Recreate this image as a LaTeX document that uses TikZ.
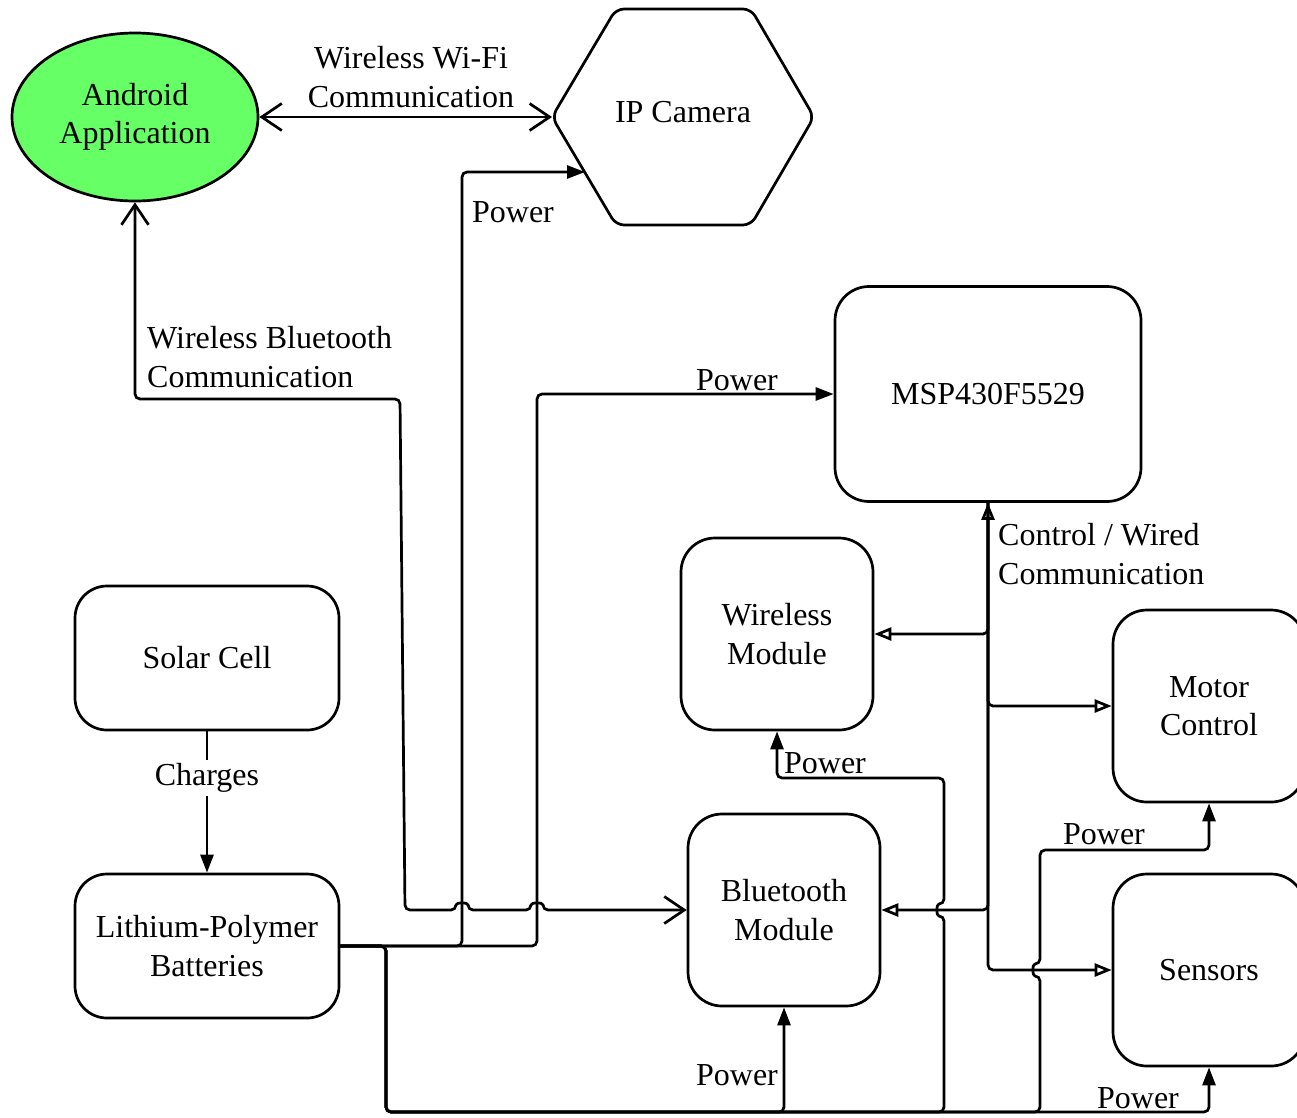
\documentclass[tikz,border=0pt]{standalone}
\usepackage{fontspec}
\setmainfont{Liberation Serif}
\usetikzlibrary{arrows.meta,shapes.geometric}
\definecolor{appgreen}{HTML}{66FF66}

\begin{document}
\begin{tikzpicture}[x=1pt,y=-1pt,
  every node/.style={font=\fontsize{32}{38.5}\selectfont, inner sep=0pt},
  box/.style={draw, line width=2.7pt, rounded corners=34pt, align=center, minimum width=192pt, minimum height=192pt},
  wire/.style={line width=2.7pt, rounded corners=5pt},
  pwr/.style={wire, -{Triangle[length=18pt,width=13pt]}},
  ctl/.style={wire, -{Triangle[open,length=17pt,width=13pt]}},
  bothctl/.style={wire, {Triangle[open,length=17pt,width=13pt]}-{Triangle[open,length=17pt,width=13pt]}},
  com/.style={wire, {Straight Barb[length=20pt,width=27pt]}-{Straight Barb[length=20pt,width=27pt]}},
  lbl/.style={align=left, anchor=west}
]
\useasboundingbox (0,0) rectangle (1297,1117);
\clip (0,0) rectangle (1297,1117);

% ---- blocks ----
\node[ellipse, draw, fill=appgreen, line width=2.7pt, minimum width=246pt, minimum height=168pt, align=center] (app) at (135,117) {Android\\Application};

% camera hexagon
\coordinate (camW) at (552,117);
\coordinate (camP) at (585,172);
\draw[line width=2.7pt, rounded corners=8pt] (683,9) -- (751,9) -- (814,117) -- (751,225) -- (616,225) -- (552,117) -- (616,9) -- cycle;
\node (cam) at (683,112) {IP Camera};

\node[box, minimum width=306pt, minimum height=215pt] (msp) at (988,394) {\raisebox{0pt}{MSP430F5529}};
\node[box] (wm)  at (777,634)  {Wireless\\Module};
\node[box] (mc)  at (1209,706) {Motor\\Control};
\node[box] (bt)  at (784,910)  {Bluetooth\\Module};
\node[box] (sen) at (1209,970) {Sensors};
\node[box, rounded corners=32pt, minimum width=264pt, minimum height=144pt] (sol) at (207,658) {Solar Cell};
\node[box, rounded corners=32pt, minimum width=264pt, minimum height=144pt] (bat) at (207,946) {Lithium-Polymer\\Batteries};

% ---- wireless links ----
\draw[com] (app.east) -- (camW);
\node[align=center] (wifi) at (411,77) {Wireless Wi-Fi\\Communication};

\draw[com] (app.south) -- (135,399) -- (400,399) -- (405,910)
  -- (456,910) .. controls (456,902) and (468,902) .. (468,910)
  -- (531,910) .. controls (531,902) and (543,902) .. (543,910)
  -- (bt.west);
\node[lbl] (btc) at (147,357) {Wireless Bluetooth\\Communication};

% ---- power distribution ----
\draw[pwr] (bat.east) -- (462,946) -- (462,172) -- (camP);
\node (pcam) at (513,212) {Power};

\draw[pwr] (bat.east) -- (537,946) -- (537,394) -- (msp.west);
\node (pmsp) at (737,380) {Power};

\draw[pwr] (bat.east) -- (386,946) -- (386,1112) -- (784,1112) -- (bt.south);
\node (pbt) at (737,1075) {Power};

\draw[pwr] (bat.east) -- (386,946) -- (386,1112) -- (944,1112)
  -- (944,916) .. controls (936,916) and (936,904) .. (944,904)
  -- (944,778) -- (777,778) -- (wm.south);
\node (pwm) at (825,763) {Power};

\draw[pwr] (bat.east) -- (386,946) -- (386,1112) -- (1040,1112)
  -- (1040,976) .. controls (1032,976) and (1032,964) .. (1040,964)
  -- (1040,850) -- (1209,850) -- (mc.south);
\node (pmc) at (1104,834) {Power};

\draw[pwr] (bat.east) -- (386,946) -- (386,1112) -- (1209,1112) -- (sen.south);
\node (psen) at (1138,1098) {Power};

% ---- control bus ----
\draw[bothctl] (msp.south) |- (sen.west);
\draw[ctl] (msp.south) |- (wm.east);
\draw[ctl] (msp.south) |- (mc.west);
\draw[ctl] (msp.south) |- (bt.east);
\node[lbl] (ctlc) at (998,554) {Control / Wired\\Communication};

% ---- charging ----
\draw[pwr] (sol.south) -- (bat.north);
\node[fill=white, inner sep=3pt] (chg) at (207,778) {Charges};
\end{tikzpicture}
\end{document}
